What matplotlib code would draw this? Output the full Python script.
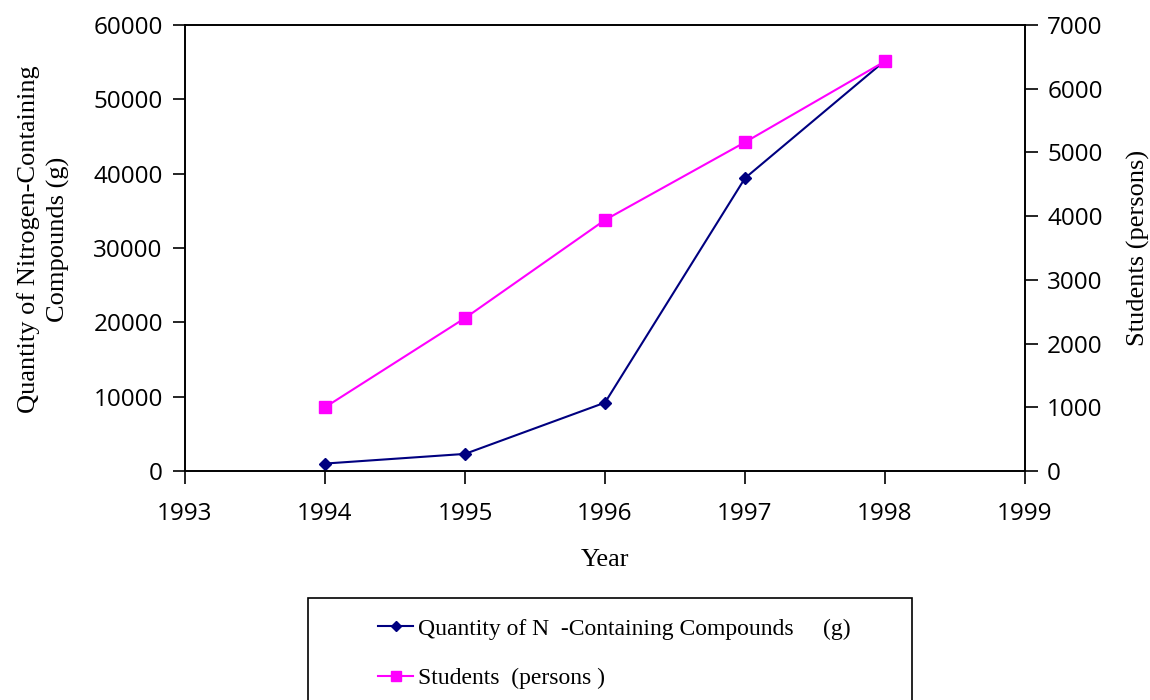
import matplotlib
matplotlib.use("Agg")
import matplotlib.pyplot as plt
from matplotlib.patches import Rectangle
from matplotlib.lines import Line2D

years = [1994, 1995, 1996, 1997, 1998]
nitrogen_g = [1000, 2300, 9200, 39400, 55200]
students = [1000, 2400, 3940, 5160, 6430]
x_ticks = [1993, 1994, 1995, 1996, 1997, 1998, 1999]
left_ticks = [0, 10000, 20000, 30000, 40000, 50000, 60000]
right_ticks = [0, 1000, 2000, 3000, 4000, 5000, 6000, 7000]

label_n = "Quantity of N  -Containing Compounds     (g)"
label_s = "Students  (persons )"

W, H = 1150, 700
fig = plt.figure(figsize=(W / 100, H / 100), dpi=100)
ax = fig.add_axes([185 / W, 1 - 471 / H, (1025 - 185) / W, (471 - 25) / H])
ax2 = ax.twinx()

tick_family = "Open Sans"
tick_size = 17.5
serif = "Liberation Serif"

navy = "#000080"
magenta = "#FF00FF"

ax.plot(years, nitrogen_g, color=navy, lw=1.5, marker="D", ms=6,
        mec=navy, mfc=navy, zorder=3)
ax2.plot(years, students, color=magenta, lw=1.5, marker="s", ms=8,
         mec=magenta, mfc=magenta, zorder=3)

ax.set_xlim(1993, 1999)
ax.set_ylim(0, 60000)
ax2.set_ylim(0, 7000)
ax.set_xticks(x_ticks)
ax.set_yticks(left_ticks)
ax2.set_yticks(right_ticks)

for a in (ax, ax2):
    for s in a.spines.values():
        s.set_linewidth(1.2)
        s.set_color("black")
    a.tick_params(direction="out", length=9, width=1.2, pad=7)
    for lbl in a.get_xticklabels() + a.get_yticklabels():
        lbl.set_fontfamily(tick_family)
        lbl.set_fontsize(tick_size)
ax.tick_params(axis="x", pad=13)

ax.set_xlabel("Year", family=serif, fontsize=19, labelpad=17)
ax.set_ylabel("Quantity of Nitrogen-Containing\nCompounds (g)", family=serif,
              fontsize=19, labelpad=17, linespacing=1.4)
ax.yaxis.label.set_y(0.52)
ax2.set_ylabel("Students (persons)", family=serif, fontsize=19, labelpad=17)

# legend box extending below the figure edge
fig.patches.append(Rectangle((308 / W, -0.02), (912 - 308) / W, 1 - 598 / H + 0.02,
                             transform=fig.transFigure, fill=False,
                             edgecolor="black", lw=1.2))
handles = [
    Line2D([], [], color=navy, lw=1.5, marker="D", ms=5, mfc=navy, mec=navy),
    Line2D([], [], color=magenta, lw=1.5, marker="s", ms=7, mfc=magenta, mec=magenta),
]
fig.legend(handles, [label_n, label_s], loc="upper left",
           bbox_to_anchor=(378 / W, 1 - 618 / H), frameon=False,
           prop={"family": serif, "size": 17}, handlelength=1.5,
           handletextpad=0.2, labelspacing=1.2, borderpad=0,
           borderaxespad=0)

fig.savefig("out.png", dpi=100)
